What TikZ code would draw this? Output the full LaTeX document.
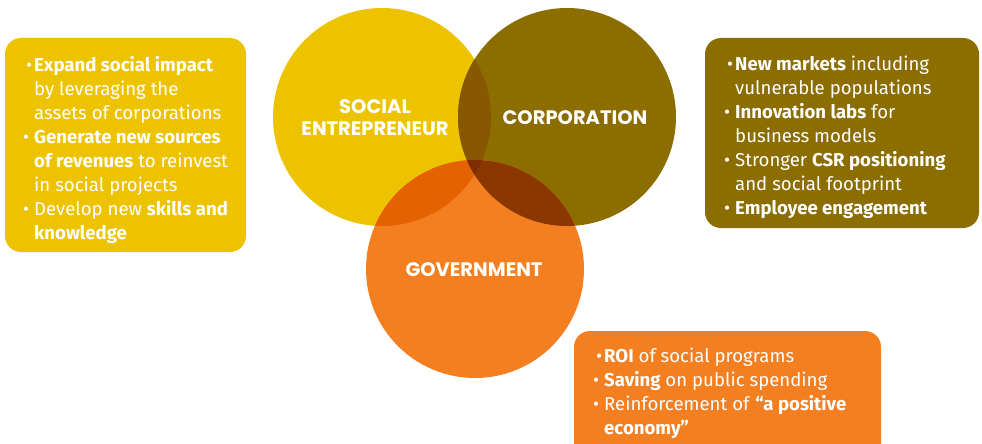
\documentclass[tikz,border=0pt]{standalone}
\usepackage{fontspec}
\setmainfont{Fira Sans}
\newfontfamily\headfont{Poppins}
\definecolor{cy}{HTML}{EDC300}
\definecolor{cc}{HTML}{8C6D00}
\definecolor{cg}{HTML}{F47F20}
\definecolor{cyc}{HTML}{875800}
\definecolor{cyg}{HTML}{E46300}
\definecolor{ccg}{HTML}{8A3700}
\definecolor{cycg}{HTML}{7D2D00}
\newcommand{\bl}{\llap{\textbullet\hspace{5pt}}}
\newcommand{\blf}{\llap{\textbullet\hspace{2pt}}}
\begin{document}
\begin{tikzpicture}[x=1pt,y=-1pt,
  circ/.style={circle,minimum size=218pt,inner sep=0pt},
  lab/.style={text=white,font=\headfont\bfseries\fontsize{19.5}{22}\selectfont,align=center},
  infobox/.style={rounded corners=16pt},
  boxtext/.style={text=white,font=\fontsize{18.6}{24}\selectfont,align=left,anchor=north west,inner sep=0pt}]
\useasboundingbox (0,0) rectangle (982,444);
\clip (0,0) rectangle (982,444);
\coordinate (py) at (382,117);
\coordinate (pc) at (567,117);
\coordinate (pg) at (475,269);
\node[circ,fill=cy] (sy) at (py) {};
\node[circ,fill=cc] (sc) at (pc) {};
\node[circ,fill=cg] (sg) at (pg) {};
\begin{scope}
  \clip (py) circle (109);
  \fill[cyc] (pc) circle (109);
\end{scope}
\begin{scope}
  \clip (py) circle (109);
  \fill[cyg] (pg) circle (109);
\end{scope}
\begin{scope}
  \clip (pc) circle (109);
  \fill[ccg] (pg) circle (109);
\end{scope}
\begin{scope}
  \clip (py) circle (109);
  \clip (pc) circle (109);
  \fill[cycg] (pg) circle (109);
\end{scope}
\node[lab] (ly) at (375,118) {SOCIAL\\ENTREPRENEUR};
\node[lab] (lc) at (575,118) {CORPORATION};
\node[lab] (lg) at (474,270) {GOVERNMENT};
% boxes
\fill[cy,infobox] (5,38) rectangle (246,252);
\node[boxtext] (ty) at (34,56) {\blf\textbf{Expand social impact}\\
by leveraging the\\
assets of corporations\\
\bl\textbf{Generate new sources}\\
\textbf{of revenues} to reinvest\\
in social projects\\
\bl Develop new \textbf{skills and}\\
\textbf{knowledge}};
\fill[cc,infobox] (705,38) rectangle (979,228);
\node[boxtext] (tc) at (735,56) {\blf\textbf{New markets} including\\
vulnerable populations\\
\bl\textbf{Innovation labs} for\\
business models\\
\bl Stronger \textbf{CSR positioning}\\
and social footprint\\
\bl\textbf{Employee engagement}};
\fill[cg,infobox] (574,331) rectangle (881,470);
\node[boxtext] (tg) at (604,348) {\blf\textbf{ROI} of social programs\\
\bl\textbf{Saving} on public spending\\
\bl Reinforcement of \textbf{“a positive}\\
\textbf{economy”}};
\end{tikzpicture}
\end{document}
